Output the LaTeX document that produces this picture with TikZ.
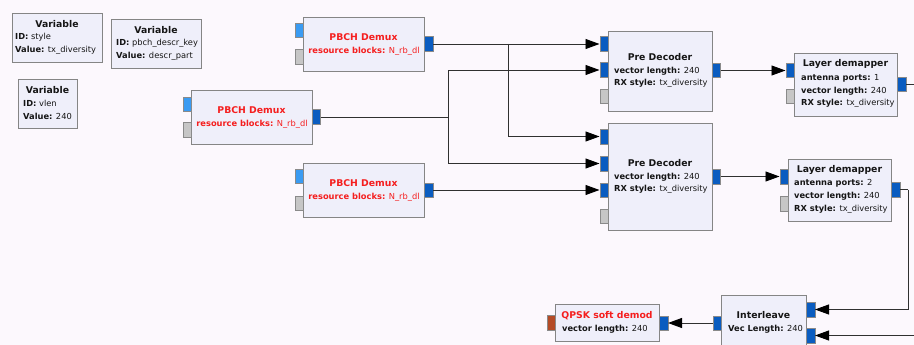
\documentclass[tikz,border=0pt]{standalone}
\usepackage{fontspec}
\setmainfont{DejaVu Sans}
\usetikzlibrary{arrows.meta}
\definecolor{bgcol}{HTML}{FCF8FD}
\definecolor{blockfill}{HTML}{EFEFFA}
\definecolor{bordergray}{HTML}{858585}
\definecolor{portblue}{HTML}{0A5CC0}
\definecolor{portlight}{HTML}{3A9BF2}
\definecolor{portgray}{HTML}{C6C6C6}
\definecolor{portbrown}{HTML}{B44B26}
\definecolor{portborder}{HTML}{8A8A8A}
\definecolor{titlecol}{HTML}{151515}
\definecolor{redtxt}{HTML}{F51E1E}
\definecolor{linecol}{HTML}{303030}
\tikzset{
 blk/.style={draw=bordergray, fill=blockfill, line width=0.8pt, anchor=north west, inner sep=0},
 prt/.style={draw=portborder, line width=0.5pt, minimum width=8.5pt, minimum height=14.5pt, inner sep=0},
 pb/.style={prt, fill=portblue},
 pl/.style={prt, fill=portlight},
 pg/.style={prt, fill=portgray},
 pr/.style={prt, fill=portbrown},
 ttl/.style={font=\fontsize{9.3}{10}\selectfont\bfseries, text=titlecol, inner sep=0},
 prm/.style={font=\fontsize{8.3}{9}\selectfont, anchor=west, inner sep=0, text=titlecol},
 conn/.style={draw=linecol, line width=0.9pt},
 arr/.style={conn, -{Triangle[length=14pt,width=10pt,fill=black,color=black]}},
}
\begin{document}
\begin{tikzpicture}[x=1pt, y=-1pt]
\fill[bgcol] (0,0) rectangle (914,345);
\useasboundingbox (0,0) rectangle (914,345);

% Variable blocks
\node[blk, minimum width=90pt, minimum height=49pt] (v1) at (12,13) {};
\node[ttl] (v1t) at (57,24) {Variable};
\node[prm] (v1a) at (15,37) {\textbf{ID:} style};
\node[prm] (v1b) at (15,50) {\textbf{Value:} tx\_diversity};

\node[blk, minimum width=90pt, minimum height=49pt] (v2) at (111,19) {};
\node[ttl] (v2t) at (156,30) {Variable};
\node[prm] (v2a) at (116,43) {\textbf{ID:} pbch\_descr\_key};
\node[prm] (v2b) at (116,56) {\textbf{Value:} descr\_part};

\node[blk, minimum width=59pt, minimum height=49pt] (v3) at (18,79) {};
\node[ttl] (v3t) at (47.5,90) {Variable};
\node[prm] (v3a) at (23,103) {\textbf{ID:} vlen};
\node[prm] (v3b) at (23,116) {\textbf{Value:} 240};

% PBCH Demux 1
\node[blk, minimum width=121pt, minimum height=54pt] (pb1) at (303,17) {};
\node[ttl, text=redtxt] (pb1t) at (363.5,37) {PBCH Demux};
\node[prm, anchor=center, text=redtxt] (pb1p) at (364,51) {\textbf{resource blocks:} N\_rb\_dl};
\node[pl] (pb1i1) at (299,30.5) {};
\node[pg] (pb1i2) at (299,57) {};
\node[pb] (pb1o) at (428.5,44) {};

% PBCH Demux 2
\node[blk, minimum width=121pt, minimum height=54pt] (pb2) at (191,90) {};
\node[ttl, text=redtxt] (pb2t) at (251.5,110) {PBCH Demux};
\node[prm, anchor=center, text=redtxt] (pb2p) at (252,124) {\textbf{resource blocks:} N\_rb\_dl};
\node[pl] (pb2i1) at (187,104.5) {};
\node[pg] (pb2i2) at (187,130) {};
\node[pb] (pb2o) at (316,117) {};

% PBCH Demux 3
\node[blk, minimum width=121pt, minimum height=54pt] (pb3) at (303,163) {};
\node[ttl, text=redtxt] (pb3t) at (363.5,183) {PBCH Demux};
\node[prm, anchor=center, text=redtxt] (pb3p) at (364,197) {\textbf{resource blocks:} N\_rb\_dl};
\node[pl] (pb3i1) at (299,176) {};
\node[pg] (pb3i2) at (299,203) {};
\node[pb] (pb3o) at (428.5,190) {};

% Pre Decoder 1
\node[blk, minimum width=104pt, minimum height=80pt] (pd1) at (608,31) {};
\node[ttl] (pd1t) at (660,57) {Pre Decoder};
\node[prm] (pd1a) at (614,71) {\textbf{vector length:} 240};
\node[prm] (pd1b) at (614,83.5) {\textbf{RX style:} tx\_diversity};
\node[pb] (pd1i1) at (604,44) {};
\node[pb] (pd1i2) at (604,70) {};
\node[pg] (pd1i3) at (604,96.5) {};
\node[pb] (pd1o) at (716,70.5) {};

% Pre Decoder 2
\node[blk, minimum width=104pt, minimum height=107pt] (pd2) at (608,123) {};
\node[ttl] (pd2t) at (660,163) {Pre Decoder};
\node[prm] (pd2a) at (614,177) {\textbf{vector length:} 240};
\node[prm] (pd2b) at (614,189.5) {\textbf{RX style:} tx\_diversity};
\node[pb] (pd2i1) at (604,136.5) {};
\node[pb] (pd2i2) at (604,163.5) {};
\node[pb] (pd2i3) at (604,190) {};
\node[pg] (pd2i4) at (604,216) {};
\node[pb] (pd2o) at (716,176.5) {};

% Layer demapper 1
\node[blk, minimum width=103pt, minimum height=63pt] (ld1) at (794,53) {};
\node[ttl] (ld1t) at (845.5,63.5) {Layer demapper};
\node[prm] (ld1a) at (801,78) {\textbf{antenna ports:} 1};
\node[prm] (ld1b) at (801,91) {\textbf{vector length:} 240};
\node[prm] (ld1c) at (801,103.5) {\textbf{RX style:} tx\_diversity};
\node[pb] (ld1i) at (790,70.5) {};
\node[pg] (ld1g) at (790,96.5) {};
\node[pb] (ld1o) at (901.5,84.5) {};

% Layer demapper 2
\node[blk, minimum width=103pt, minimum height=62pt] (ld2) at (788,159) {};
\node[ttl] (ld2t) at (839.5,169.5) {Layer demapper};
\node[prm] (ld2a) at (794,183.5) {\textbf{antenna ports:} 2};
\node[prm] (ld2b) at (794,196.5) {\textbf{vector length:} 240};
\node[prm] (ld2c) at (794,209.5) {\textbf{RX style:} tx\_diversity};
\node[pb] (ld2i) at (784,176.5) {};
\node[pg] (ld2g) at (784,203.5) {};
\node[pb] (ld2o) at (895.5,189.5) {};

% Interleave
\node[blk, minimum width=85pt, minimum height=60pt] (il) at (721,295) {};
\node[ttl] (ilt) at (763.5,315) {Interleave};
\node[prm] (ila) at (728,329) {\textbf{Vec Length:} 240};
\node[pb] (ili) at (717,323) {};
\node[pb] (ilr1) at (810.5,309.5) {};
\node[pb] (ilr2) at (810.5,335.5) {};

% QPSK soft demod
\node[blk, minimum width=104pt, minimum height=37pt] (qp) at (555,304) {};
\node[ttl, text=redtxt] (qpt) at (607,315.5) {QPSK soft demod};
\node[prm] (qpa) at (562,329) {\textbf{vector length:} 240};
\node[pr] (qpi) at (551,322.5) {};
\node[pb] (qpo) at (663.5,323) {};

% junctions and free ends
\coordinate (j1) at (508,44);
\coordinate (j2) at (448,117);
\coordinate (j3) at (908,189.5);
\coordinate (e1) at (916,84.5);
\coordinate (e2) at (916,335.5);

% connections
\draw[arr] (pb1o.east) -- (pd1i1.west);
\draw[arr] (j1) |- (pd2i1.west);
\draw[conn] (pb2o.east) -- (j2);
\draw[arr] (j2) |- (pd1i2.west);
\draw[arr] (j2) |- (pd2i2.west);
\draw[arr] (pb3o.east) -- (pd2i3.west);
\draw[arr] (pd1o.east) -- (ld1i.west);
\draw[arr] (pd2o.east) -- (ld2i.west);
\draw[conn] (ld1o.east) -- (e1);
\draw[conn] (ld2o.east) -- (j3);
\draw[arr] (j3) |- (ilr1.east);
\draw[arr] (e2) -- (ilr2.east);
\draw[arr] (ili.west) -- (qpo.east);
\end{tikzpicture}
\end{document}
